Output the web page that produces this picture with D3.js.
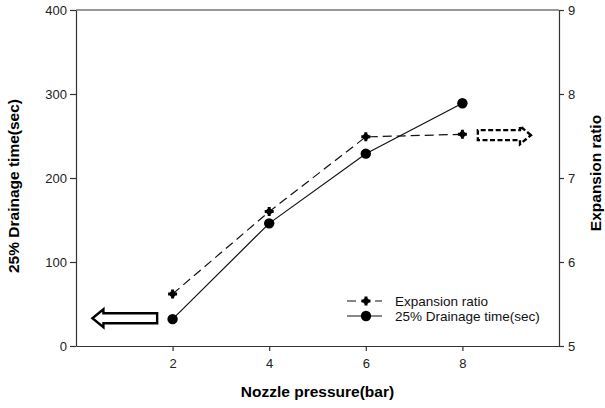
<!DOCTYPE html>
<html>
<head>
<meta charset="utf-8">
<script src="https://cdn.jsdelivr.net/npm/d3@7"></script>
<style>
  body { margin: 0; background: #fff; }
  svg { display: block; font-family: Arial, "Liberation Sans", sans-serif; }
  .axis path, .axis line { stroke: #333; stroke-width: 1.2; }
  .axis text { font-size: 13px; fill: #222; }
</style>
</head>
<body>
<script>
// nozzle pressure (bar)
var pressure = [2, 4, 6, 8];
// 25% drainage time (sec), left axis
var drainage = [32, 146, 229, 289];
// expansion ratio, right axis
var expansion = [5.62, 6.60, 7.49, 7.52];

var xTicks = [2, 4, 6, 8];
var leftTicks = [0, 100, 200, 300, 400];
var rightTicks = [5, 6, 7, 8, 9];

var w = 605, h = 408;
var m = {left: 76, right: 46, top: 10, bottom: 62};

var svg = d3.select("body").append("svg")
  .attr("width", w)
  .attr("height", h);

var x = d3.scaleLinear().domain([0, 10]).range([m.left, w - m.right]);
var yL = d3.scaleLinear().domain([0, 400]).range([h - m.bottom, m.top]);
var yR = d3.scaleLinear().domain([5, 9]).range([h - m.bottom, m.top]);

// frame top line
svg.append("line")
  .attr("x1", x(0)).attr("x2", x(10))
  .attr("y1", yL(400)).attr("y2", yL(400))
  .attr("stroke", "#333").attr("stroke-width", 1.2);

svg.append("g").attr("class", "axis")
  .attr("transform", "translate(0," + yL(0) + ")")
  .call(d3.axisBottom(x).tickValues(xTicks).tickSize(5).tickPadding(8).tickSizeOuter(0));

svg.append("g").attr("class", "axis")
  .attr("transform", "translate(" + x(0) + ",0)")
  .call(d3.axisLeft(yL).tickValues(leftTicks).tickSize(6).tickPadding(3).tickSizeOuter(0));

svg.append("g").attr("class", "axis")
  .attr("transform", "translate(" + x(10) + ",0)")
  .call(d3.axisRight(yR).tickValues(rightTicks).tickFormat(d3.format("d"))
    .tickSize(5).tickPadding(4).tickSizeOuter(0));

// axis titles
svg.append("text")
  .attr("transform", "translate(19," + (yL(200) + 8) + ") rotate(-90)")
  .attr("text-anchor", "middle")
  .attr("font-size", "15.5px").attr("font-weight", "bold")
  .text("25% Drainage time(sec)");

svg.append("text")
  .attr("transform", "translate(601," + (yL(200) - 5) + ") rotate(-90)")
  .attr("text-anchor", "middle")
  .attr("font-size", "15.5px").attr("font-weight", "bold")
  .text("Expansion ratio");

svg.append("text")
  .attr("x", (x(0) + x(10)) / 2).attr("y", 397)
  .attr("text-anchor", "middle")
  .attr("font-size", "15.5px").attr("font-weight", "bold")
  .text("Nozzle pressure(bar)");

// series
var lineL = d3.line().x(function(d, i){ return x(pressure[i]); }).y(function(d){ return yL(d); });
var lineR = d3.line().x(function(d, i){ return x(pressure[i]); }).y(function(d){ return yR(d); });

svg.append("path").datum(expansion)
  .attr("d", lineR)
  .attr("fill", "none").attr("stroke", "#111").attr("stroke-width", 1.2)
  .attr("stroke-dasharray", "9,5");

svg.append("path").datum(drainage)
  .attr("d", lineL)
  .attr("fill", "none").attr("stroke", "#111").attr("stroke-width", 1.2);

var cross = d3.symbol().type(d3.symbolCross).size(45);

svg.selectAll(".expPt").data(expansion).enter().append("g")
  .attr("class", "expPt")
  .attr("transform", function(d, i){ return "translate(" + x(pressure[i]) + "," + yR(d) + ")"; })
  .each(function(){
    d3.select(this).append("path").attr("d", cross).attr("fill", "#000");
    d3.select(this).append("circle").attr("r", 3).attr("fill", "#000");
  });

svg.selectAll(".drPt").data(drainage).enter().append("circle")
  .attr("class", "drPt")
  .attr("cx", function(d, i){ return x(pressure[i]); })
  .attr("cy", function(d){ return yL(d); })
  .attr("r", 5.2)
  .attr("fill", "#000");

// arrows pointing to the axis for each series
function arrowPath(x0, x1, yc, dir){
  // x0 = tip, x1 = tail end
  var head = 11, th = 5, hh = 9;
  var xb = x0 + dir * head;
  return "M" + x0 + "," + yc +
    "L" + xb + "," + (yc - hh) +
    "L" + xb + "," + (yc - th) +
    "L" + x1 + "," + (yc - th) +
    "L" + x1 + "," + (yc + th) +
    "L" + xb + "," + (yc + th) +
    "L" + xb + "," + (yc + hh) + "Z";
}

svg.append("path")
  .attr("d", arrowPath(x(0.34), x(1.68), yL(33), 1))
  .attr("fill", "#fff").attr("stroke", "#000").attr("stroke-width", 2.4)
  .attr("stroke-linejoin", "miter");

svg.append("path")
  .attr("d", arrowPath(x(9.42), x(8.32), yR(7.51), -1))
  .attr("fill", "#fff").attr("stroke", "#000").attr("stroke-width", 2.4)
  .attr("stroke-dasharray", "5,2.5");

// legend
var legend = svg.append("g").attr("transform", "translate(347,301)");
var rows = [
  {name: "Expansion ratio", dash: "9,5", marker: "cross"},
  {name: "25% Drainage time(sec)", dash: null, marker: "circle"}
];
rows.forEach(function(r, i){
  var g = legend.append("g").attr("transform", "translate(0," + (i * 15) + ")");
  g.append("line").attr("x1", 0).attr("x2", 35).attr("y1", 0).attr("y2", 0)
    .attr("stroke", "#111").attr("stroke-width", 1.2)
    .attr("stroke-dasharray", r.dash);
  if (r.marker == "cross") {
    g.append("path").attr("d", cross).attr("transform", "translate(19,0)").attr("fill", "#000");
    g.append("circle").attr("cx", 19).attr("r", 3).attr("fill", "#000");
  } else {
    g.append("circle").attr("cx", 19).attr("r", 5.2).attr("fill", "#000");
  }
  g.append("text").attr("x", 48).attr("y", 0).attr("dy", "0.35em")
    .attr("font-size", "13.5px").attr("fill", "#111")
    .text(r.name);
});
</script>
</body>
</html>
